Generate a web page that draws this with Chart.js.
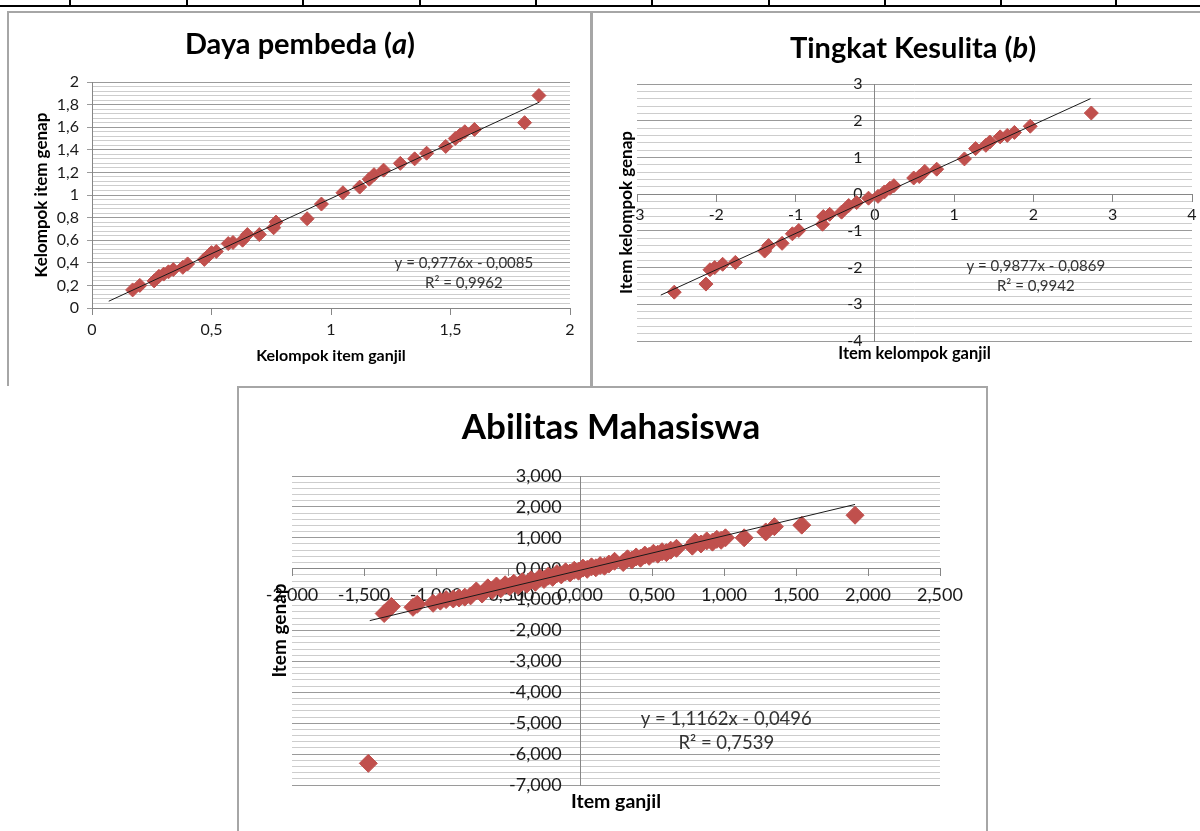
<!DOCTYPE html>
<html>
<head>
<meta charset="utf-8">
<script src="https://cdn.jsdelivr.net/npm/chart.js@4.4.1/dist/chart.umd.min.js"></script>
<style>
body { margin: 0; width: 1200px; height: 831px; overflow: hidden; background: #fff; position: relative; }
.garis { position: absolute; background: #000; }
.bingkai { position: absolute; background: #a6a6a6; }
canvas { position: absolute; }
</style>
</head>
<body>
<!-- sisa tabel di atas -->
<div class="garis" style="left:0;top:5px;width:1200px;height:2px"></div>
<div class="garis" style="left:69px;top:0;width:2px;height:6px"></div>
<div class="garis" style="left:186px;top:0;width:2px;height:6px"></div>
<div class="garis" style="left:302px;top:0;width:2px;height:6px"></div>
<div class="garis" style="left:419px;top:0;width:2px;height:6px"></div>
<div class="garis" style="left:535px;top:0;width:2px;height:6px"></div>
<div class="garis" style="left:651px;top:0;width:2px;height:6px"></div>
<div class="garis" style="left:768px;top:0;width:2px;height:6px"></div>
<div class="garis" style="left:884px;top:0;width:2px;height:6px"></div>
<div class="garis" style="left:1000px;top:0;width:2px;height:6px"></div>
<div class="garis" style="left:1115px;top:0;width:2px;height:6px"></div>

<!-- bingkai grafik -->
<div class="bingkai" style="left:7px;top:11px;width:2px;height:375px"></div>
<div class="bingkai" style="left:7px;top:11px;width:584px;height:2px"></div>
<div class="bingkai" style="left:590px;top:11px;width:3px;height:375px"></div>
<div class="bingkai" style="left:593px;top:11px;width:607px;height:2px"></div>
<div class="bingkai" style="left:237px;top:386px;width:751px;height:2px"></div>
<div class="bingkai" style="left:237px;top:386px;width:2px;height:445px"></div>
<div class="bingkai" style="left:986px;top:386px;width:2px;height:445px"></div>

<canvas id="grafikDaya" width="584" height="374" style="left:8px;top:11px"></canvas>
<canvas id="grafikKesulitan" width="638" height="374" style="left:593px;top:11px"></canvas>
<canvas id="grafikAbilitas" width="750" height="444" style="left:237px;top:387px"></canvas>

<script>
// Daya pembeda (a)
const dayaGanjil = [0.17, 0.20, 0.26, 0.28, 0.30, 0.32, 0.34, 0.38, 0.40, 0.47, 0.49, 0.50, 0.52, 0.57, 0.59, 0.63, 0.65, 0.70, 0.76, 0.77, 0.90, 0.96, 1.05, 1.12, 1.16, 1.18, 1.22, 1.29, 1.35, 1.40, 1.48, 1.52, 1.54, 1.56, 1.60, 1.81, 1.87];
const dayaGenap = [0.16, 0.20, 0.24, 0.28, 0.30, 0.32, 0.34, 0.36, 0.39, 0.43, 0.47, 0.49, 0.50, 0.57, 0.58, 0.60, 0.65, 0.65, 0.71, 0.76, 0.79, 0.92, 1.02, 1.07, 1.14, 1.18, 1.22, 1.28, 1.32, 1.37, 1.43, 1.50, 1.53, 1.56, 1.58, 1.64, 1.88];
const dayaTrendX = [0.07, 1.87];
const dayaTrendY = [0.06, 1.82];
const dayaTickX = [0, 0.5, 1, 1.5, 2];
const dayaTickY = [0, 0.2, 0.4, 0.6, 0.8, 1, 1.2, 1.4, 1.6, 1.8, 2];

// Tingkat kesulitan (b)
const sulitGanjil = [-2.53, -2.13, -2.08, -2.02, -1.92, -1.76, -1.39, -1.34, -1.17, -1.04, -0.96, -0.66, -0.65, -0.57, -0.42, -0.33, -0.23, -0.08, 0.04, 0.12, 0.19, 0.24, 0.49, 0.56, 0.63, 0.78, 1.13, 1.27, 1.40, 1.45, 1.58, 1.67, 1.76, 1.96, 2.73];
const sulitGenap = [-2.67, -2.45, -2.06, -2.00, -1.91, -1.86, -1.55, -1.40, -1.34, -1.08, -0.99, -0.82, -0.61, -0.55, -0.49, -0.31, -0.23, -0.11, -0.06, 0.06, 0.16, 0.23, 0.44, 0.48, 0.62, 0.68, 0.96, 1.24, 1.33, 1.42, 1.56, 1.60, 1.68, 1.85, 2.21];
const sulitTrendX = [-2.70, 2.72];
const sulitTrendY = [-2.75, 2.60];
const sulitTickX = [-3, -2, -1, 0, 1, 2, 3, 4];
const sulitTickY = [-4, -3, -2, -1, 0, 1, 2, 3];

// Abilitas mahasiswa
const abilGanjil = [-1.36, -1.31, -1.16, -1.13, -1.02, -0.97, -0.93, -0.88, -0.84, -0.80, -0.76, -0.72, -0.68, -0.64, -0.61, -0.58, -0.55, -0.52, -0.49, -0.46, -0.43, -0.40, -0.37, -0.34, -0.31, -0.28, -0.25, -0.22, -0.19, -0.16, -0.13, -0.10, -0.07, -0.04, -0.01, 0.02, 0.05, 0.08, 0.11, 0.14, 0.17, 0.20, 0.24, 0.30, 0.33, 0.36, 0.39, 0.42, 0.45, 0.48, 0.51, 0.54, 0.57, 0.60, 0.63, 0.67, 0.78, 0.80, 0.84, 0.88, 0.92, 0.95, 0.98, 1.01, 1.14, 1.29, 1.35, 1.54, 1.91, -1.47];
const abilGenap = [-1.45, -1.22, -1.25, -1.15, -1.12, -1.05, -1.00, -0.98, -0.95, -0.92, -0.88, -0.72, -0.82, -0.62, -0.70, -0.56, -0.65, -0.52, -0.58, -0.47, -0.55, -0.42, -0.50, -0.36, -0.44, -0.30, -0.35, -0.24, -0.28, -0.16, -0.20, -0.10, -0.14, -0.05, -0.08, 0.02, -0.02, 0.06, 0.03, 0.10, 0.08, 0.15, 0.24, 0.20, 0.32, 0.28, 0.38, 0.34, 0.44, 0.40, 0.50, 0.47, 0.55, 0.52, 0.60, 0.66, 0.73, 0.86, 0.80, 0.90, 0.86, 0.95, 0.92, 1.00, 1.00, 1.19, 1.36, 1.41, 1.73, -6.30];
const abilTrendX = [-1.46, 1.91];
const abilTrendY = [-1.68, 2.08];
const abilTickX = [-2, -1.5, -1, -0.5, 0, 0.5, 1, 1.5, 2, 2.5];
const abilTickY = [-7, -6, -5, -4, -3, -2, -1, 0, 1, 2, 3];

Chart.defaults.font.family = 'Lato, sans-serif';
Chart.defaults.color = '#1a1a1a';
Chart.defaults.animation = false;
Chart.defaults.plugins.legend.display = false;
Chart.defaults.plugins.tooltip.enabled = false;

const MERAH = '#C0504D';
const GRID_MAYOR = '#9a9a9a';
const GRID_MINOR = '#cdcdcd';
const SUMBU = '#868686';

function titik(xs, ys) {
    return xs.map((x, i) => ({x: x, y: ys[i]}));
}

// format angka pakai koma, ringkas = buang nol di belakang
// jarak = spasi di kanan, karena sumbu di tengah tidak memakai ticks.padding
function angka(desimal, ringkas, jarak) {
    return function(v) {
        let s = v.toFixed(desimal);
        if (ringkas)
            s = String(Number(s));
        return s.replace('.', ',') + (jarak || '');
    };
}

function pakaiTick(arr) {
    return function(scale) {
        scale.ticks = arr.map(v => ({value: v}));
    };
}

function kumpulanData(xs, ys, trendX, trendY, radius) {
    return [
        {   // garis tren di atas titik
            data: titik(trendX, trendY),
            showLine: true,
            pointRadius: 0,
            borderColor: '#1a1a1a',
            borderWidth: 1,
        },
        {
            data: titik(xs, ys),
            pointStyle: 'rectRot',
            pointRadius: radius,
            backgroundColor: MERAH,
            borderColor: MERAH,
            borderWidth: 1,
            clip: false,
        }
    ];
}

function sumbuMinor(min, max, step) {
    return {
        type: 'linear',
        axis: 'y',
        position: {x: 0},
        min: min,
        max: max,
        ticks: {display: false, stepSize: step},
        grid: {color: GRID_MINOR, drawTicks: false, z: -2},
        border: {display: false},
    };
}

// judul, label sumbu y yang diputar, dan persamaan tren
const teksPlugin = {
    id: 'teks',
    afterDraw(chart, args, opts) {
        const ctx = chart.ctx;
        const area = chart.chartArea;
        ctx.save();
        ctx.fillStyle = '#000';
        ctx.textBaseline = 'middle';

        if (opts.judul) {
            const j = opts.judul;
            const fonts = j.bagian.map(b => (b[1] ? 'italic ' : '') + 'bold ' + j.size + 'px Lato');
            let total = 0;
            j.bagian.forEach((b, i) => { ctx.font = fonts[i]; total += ctx.measureText(b[0]).width; });
            let x = j.x - total / 2;
            ctx.textAlign = 'left';
            j.bagian.forEach((b, i) => {
                ctx.font = fonts[i];
                ctx.fillText(b[0], x, j.y);
                x += ctx.measureText(b[0]).width;
            });
        }

        if (opts.judulY) {
            const t = opts.judulY;
            ctx.save();
            ctx.translate(t.x, (area.top + area.bottom) / 2);
            ctx.rotate(-Math.PI / 2);
            ctx.textAlign = 'center';
            ctx.font = 'bold ' + t.size + 'px Lato';
            ctx.fillText(t.text, 0, 0);
            ctx.restore();
        }

        if (opts.persamaan) {
            const p = opts.persamaan;
            ctx.font = p.size + 'px Lato';
            ctx.fillStyle = '#333';
            ctx.textAlign = 'center';
            p.baris.forEach(b => {
                ctx.fillText(b.text, chart.scales.x.getPixelForValue(b.x), chart.scales.y.getPixelForValue(b.y));
            });
        }
        ctx.restore();
    }
};
Chart.register(teksPlugin);

new Chart(document.getElementById('grafikDaya'), {
    type: 'scatter',
    data: {datasets: kumpulanData(dayaGanjil, dayaGenap, dayaTrendX, dayaTrendY, 7)},
    options: {
        responsive: false,
        layout: {padding: {top: 71, right: 22, left: 0, bottom: 0}},
        scales: {
            x: {
                min: 0, max: 2,
                afterBuildTicks: pakaiTick(dayaTickX),
                afterFit: s => { s.height = 77; },
                ticks: {callback: angka(1, true), font: {size: 16}, padding: 5, autoSkip: false, maxRotation: 0},
                grid: {drawOnChartArea: false, tickLength: 7, color: SUMBU},
                border: {color: SUMBU},
                title: {display: true, text: 'Kelompok item ganjil', color: '#000', font: {size: 16, weight: 'bold'}, padding: {top: 0, bottom: 20}},
            },
            y: {
                min: 0, max: 2,
                afterBuildTicks: pakaiTick(dayaTickY),
                afterFit: s => { s.width = 84; },
                ticks: {callback: angka(1, true), font: {size: 16}, padding: 8, autoSkip: false},
                grid: {color: GRID_MAYOR, tickLength: 5},
                border: {color: SUMBU},
                title: {display: true, text: 'Kelompok item genap', color: '#000', font: {size: 17, weight: 'bold'}, padding: {top: 23, bottom: 0}},
            },
            yMinor: sumbuMinor(0, 2, 0.04),
        },
        plugins: {
            teks: {
                judul: {x: 292, y: 34, size: 29, bagian: [['Daya pembeda (', false], ['a', true], [')', false]]},
                persamaan: {size: 15, baris: [
                    {text: 'y = 0,9776x - 0,0085', x: 1.556, y: 0.40},
                    {text: 'R² = 0,9962', x: 1.556, y: 0.22},
                ]},
            }
        }
    }
});

new Chart(document.getElementById('grafikKesulitan'), {
    type: 'scatter',
    data: {datasets: kumpulanData(sulitGanjil, sulitGenap, sulitTrendX, sulitTrendY, 7)},
    options: {
        responsive: false,
        layout: {padding: {top: 73, right: 39, left: 44, bottom: 44}},
        scales: {
            x: {
                min: -3, max: 4,
                position: {y: 0},
                afterBuildTicks: pakaiTick(sulitTickX),
                afterFit: s => { s.height = 169; },
                ticks: {callback: angka(0, true), font: {size: 16}, padding: 4, autoSkip: false, maxRotation: 0},
                grid: {drawOnChartArea: false, tickLength: 7, color: SUMBU},
                border: {color: SUMBU},
                title: {display: true, text: 'Item kelompok ganjil', color: '#000', font: {size: 16.5, weight: 'bold'}, padding: 0},
            },
            y: {
                min: -4, max: 3,
                position: {x: 0},
                afterBuildTicks: pakaiTick(sulitTickY),
                ticks: {callback: angka(0, true, '   '), font: {size: 16}, autoSkip: false},
                grid: {color: GRID_MAYOR, drawTicks: false},
                border: {color: SUMBU},
            },
            yMinor: sumbuMinor(-4, 3, 0.2),
        },
        plugins: {
            teks: {
                judul: {x: 320, y: 38, size: 29, bagian: [['Tingkat Kesulita (', false], ['b', true], [')', false]]},
                judulY: {text: 'Item kelompok genap', x: 34, size: 17},
                persamaan: {size: 15, baris: [
                    {text: 'y = 0,9877x - 0,0869', x: 2.03, y: -1.95},
                    {text: 'R² = 0,9942', x: 2.03, y: -2.50},
                ]},
            }
        }
    }
});

new Chart(document.getElementById('grafikAbilitas'), {
    type: 'scatter',
    data: {datasets: kumpulanData(abilGanjil, abilGenap, abilTrendX, abilTrendY, 9)},
    options: {
        responsive: false,
        layout: {padding: {top: 89, right: 47, left: 55, bottom: 46}},
        scales: {
            x: {
                min: -2, max: 2.5,
                position: {y: 0},
                afterBuildTicks: pakaiTick(abilTickX),
                afterFit: s => { s.height = 245; },
                ticks: {callback: angka(3, false), font: {size: 18}, padding: 9, autoSkip: false, maxRotation: 0},
                grid: {drawOnChartArea: false, tickLength: 7, color: SUMBU},
                border: {color: SUMBU},
                title: {display: true, text: 'Item ganjil', color: '#000', font: {size: 19.5, weight: 'bold'}, padding: 0},
            },
            y: {
                min: -7, max: 3,
                position: {x: 0},
                afterBuildTicks: pakaiTick(abilTickY),
                ticks: {callback: angka(3, false, '    '), font: {size: 18}, autoSkip: false},
                grid: {color: GRID_MAYOR, drawTicks: false},
                border: {color: SUMBU},
            },
            yMinor: sumbuMinor(-7, 3, 0.2),
        },
        plugins: {
            teks: {
                judul: {x: 374, y: 41, size: 35, bagian: [['Abilitas Mahasiswa', false]]},
                judulY: {text: 'Item genap', x: 43, size: 19},
                persamaan: {size: 18.5, baris: [
                    {text: 'y = 1,1162x - 0,0496', x: 1.016, y: -4.85},
                    {text: 'R² = 0,7539', x: 1.016, y: -5.65},
                ]},
            }
        }
    }
});
</script>
</body>
</html>
